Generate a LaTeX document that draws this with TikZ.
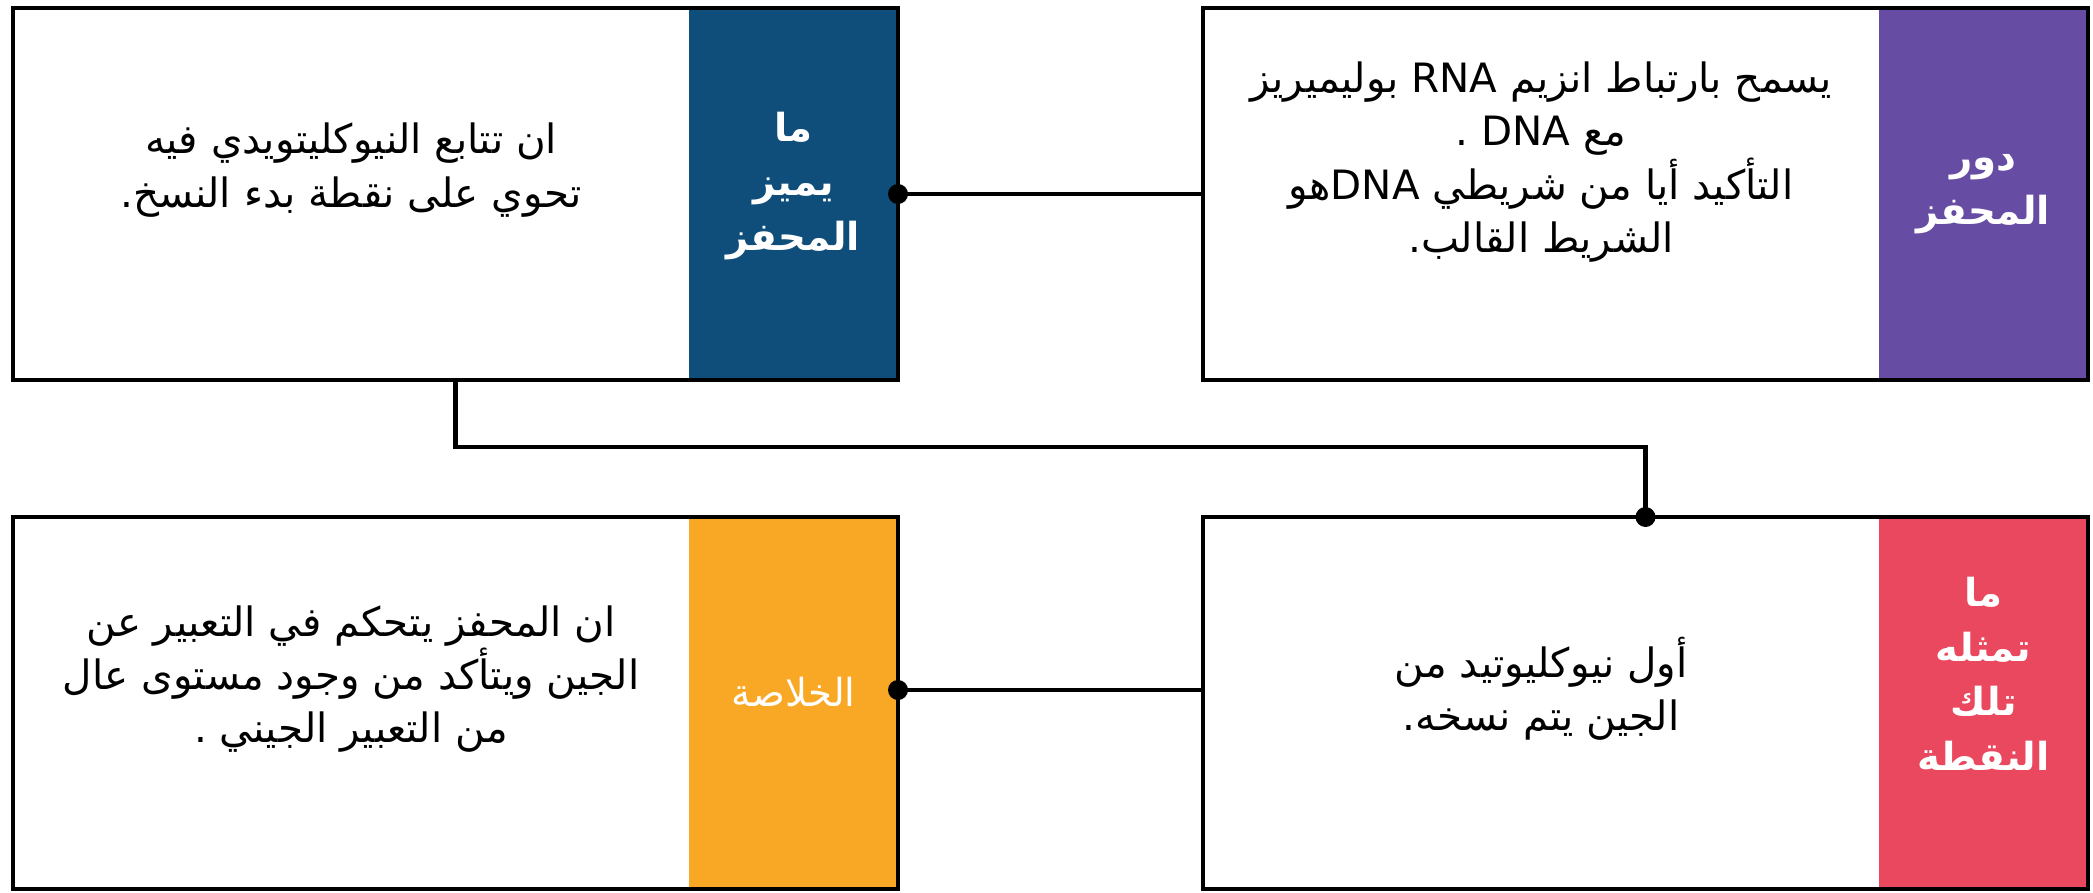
\documentclass[tikz,border=0pt]{standalone}
\usepackage{fontspec}
\usetikzlibrary{positioning}
\TeXXeTstate=1
\newfontfamily\arabicfont[Script=Arabic]{DejaVu Sans}
\newcommand{\arline}[1]{\beginR #1\endR}
\definecolor{promblue}{HTML}{0F4D7B}
\definecolor{promviolet}{HTML}{664DA3}
\definecolor{promred}{HTML}{EA485E}
\definecolor{promorange}{HTML}{F9A826}
\tikzset{
  card/.style={fill=white, minimum width=8.85cm, minimum height=3.72cm, inner sep=0pt, outer sep=0pt},
  band/.style={fill=#1, minimum width=2.09cm, minimum height=3.72cm, inner sep=0pt, outer sep=0pt},
  head/.style={text=white, align=center, font=\arabicfont\bfseries\fontsize{11}{15.5}\selectfont},
  body/.style={minimum width=6.76cm, minimum height=3.72cm, inner sep=0pt, outer sep=0pt, yshift=2.4mm,
    align=center, font=\arabicfont\fontsize{11.5}{15.2}\selectfont},
  frame/.style={draw, line width=1.4pt},
  link/.style={line width=1.4pt},
}

\begin{document}
\begin{tikzpicture}
  \useasboundingbox (0,0) rectangle (20.93,-8.92);
  \node[card] (tl) at (4.555,-1.94) {};
  \node[card, right=3.05cm of tl] (tr) {};
  \node[card, below=1.37cm of tl] (bl) {};
  \node[card, below=1.37cm of tr] (br) {};
  % coloured title strip on the right of each card
  \node[band=promblue, anchor=east] (tlb) at (tl.east) {};
  \node[band=promviolet, anchor=east] (trb) at (tr.east) {};
  \node[band=promorange, anchor=east] (blb) at (bl.east) {};
  \node[band=promred, anchor=east] (brb) at (br.east) {};
  \node[head, yshift=0.8mm] (tlh) at (tlb) {\arline{ما}\\ \arline{يميز}\\ \arline{المحفز}};
  \node[head] (trh) at (trb) {\arline{دور}\\ \arline{المحفز}};
  \node[head, yshift=1.1mm, font=\arabicfont\fontsize{11}{15}\selectfont] (blh) at (blb) {\arline{الخلاصة}};
  \node[head, yshift=2.9mm] (brh) at (brb) {\arline{ما}\\ \arline{تمثله}\\ \arline{تلك}\\ \arline{النقطة}};
  % card texts
  \node[body, left=0pt of tlb] (tlt) {\arline{ان تتابع النيوكليتويدي فيه}\\
    \arline{تحوي على نقطة بدء النسخ.}};
  \node[body, left=0pt of trb, yshift=0.8mm] (trt) {\arline{يسمح بارتباط انزيم \beginL RNA\endL{} بوليميريز}\\
    \arline{مع \beginL DNA\endL{} .}\\
    \arline{التأكيد أيا من شريطي \beginL DNA\endL{}هو}\\
    \arline{الشريط القالب.}};
  \node[body, left=0pt of blb] (blt) {\arline{ان المحفز يتحكم في التعبير عن}\\
    \arline{الجين ويتأكد من وجود مستوى عال}\\
    \arline{من التعبير الجيني .}};
  \node[body, left=0pt of brb, yshift=-1mm] (brt) {\arline{أول نيوكليوتيد من}\\
    \arline{الجين يتم نسخه.}};
  \foreach \c in {tl,tr,bl,br}
    \draw[frame] (\c.north west) rectangle (\c.south east);
  % connectors
  \draw[link] (tl.east) -- (tr.west);
  \draw[link] ([yshift=1.3mm]bl.east) -- ([yshift=1.3mm]br.west);
  \draw[link] (tl.south) -- ++(0,-0.67) -| (br.north);
  \fill (tl.east) circle (0.1);
  \fill ([yshift=1.3mm]bl.east) circle (0.1);
  \fill (br.north) circle (0.1);
\end{tikzpicture}
\end{document}
